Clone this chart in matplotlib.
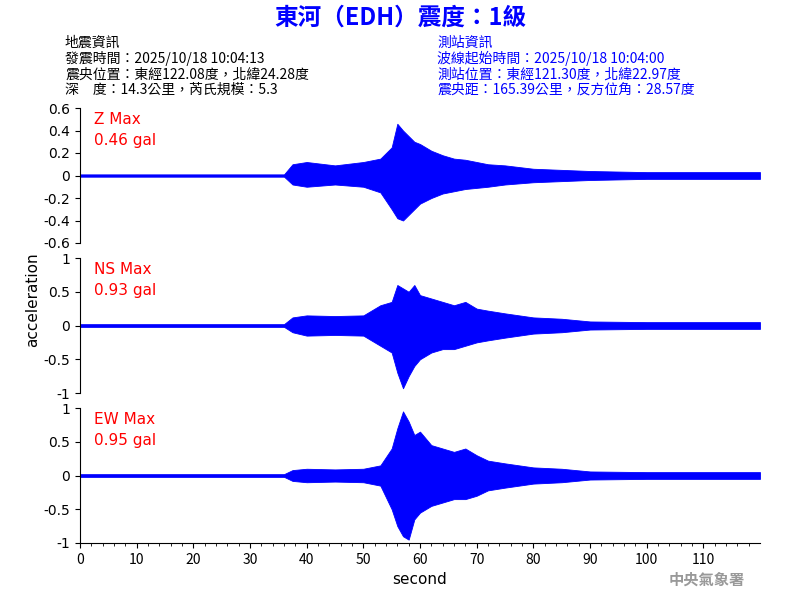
import matplotlib.pyplot as plt

plt.rcParams['font.family'] = ['Noto Sans CJK TC', 'DejaVu Sans']

# envelope of the traces (seconds, gal)
t = [0, 36, 37.5, 40, 45, 50, 53, 55, 56, 57, 58, 59, 60, 62, 64, 66, 68, 70, 72, 75, 80, 85, 90, 100, 110, 120]
z_up = [0.01, 0.01, 0.10, 0.12, 0.09, 0.12, 0.15, 0.25, 0.46, 0.40, 0.35, 0.30, 0.28, 0.22, 0.18, 0.15, 0.14, 0.12, 0.10, 0.09, 0.06, 0.05, 0.04, 0.03, 0.03, 0.03]
z_lo = [-0.01, -0.01, -0.08, -0.10, -0.08, -0.10, -0.15, -0.30, -0.38, -0.40, -0.35, -0.30, -0.25, -0.20, -0.16, -0.14, -0.12, -0.11, -0.10, -0.08, -0.06, -0.05, -0.04, -0.03, -0.03, -0.03]
ns_up = [0.02, 0.02, 0.12, 0.15, 0.14, 0.15, 0.30, 0.35, 0.60, 0.55, 0.50, 0.60, 0.45, 0.40, 0.35, 0.30, 0.35, 0.25, 0.22, 0.18, 0.12, 0.10, 0.06, 0.05, 0.05, 0.05]
ns_lo = [-0.02, -0.02, -0.10, -0.15, -0.14, -0.15, -0.30, -0.40, -0.70, -0.93, -0.75, -0.60, -0.50, -0.40, -0.35, -0.35, -0.30, -0.25, -0.22, -0.18, -0.12, -0.10, -0.06, -0.05, -0.05, -0.05]
ew_up = [0.02, 0.02, 0.08, 0.10, 0.09, 0.10, 0.15, 0.40, 0.70, 0.95, 0.80, 0.60, 0.65, 0.45, 0.40, 0.35, 0.40, 0.30, 0.22, 0.18, 0.12, 0.10, 0.06, 0.05, 0.05, 0.05]
ew_lo = [-0.02, -0.02, -0.08, -0.10, -0.09, -0.10, -0.15, -0.50, -0.75, -0.90, -0.95, -0.65, -0.55, -0.45, -0.40, -0.35, -0.35, -0.30, -0.22, -0.18, -0.12, -0.10, -0.06, -0.05, -0.05, -0.05]

labels = ['Z Max\n0.46 gal', 'NS Max\n0.93 gal', 'EW Max\n0.95 gal']
limits = [0.6, 1, 1]
ticks = [[0.6, 0.4, 0.2, 0, -0.2, -0.4, -0.6], [1, 0.5, 0, -0.5, -1], [1, 0.5, 0, -0.5, -1]]
ticklabels = [['0.6', '0.4', '0.2', '0', '-0.2', '-0.4', '-0.6'], ['1', '0.5', '0', '-0.5', '-1'], ['1', '0.5', '0', '-0.5', '-1']]
ups = [z_up, ns_up, ew_up]
los = [z_lo, ns_lo, ew_lo]

fig = plt.figure(figsize=(8, 6), dpi=100)
tops = [108, 258, 408]
for i in range(3):
    ax = fig.add_axes([80 / 800, 1 - (tops[i] + 135) / 600, 680 / 800, 135 / 600])
    ax.fill_between(t, los[i], ups[i], color='blue', lw=0.6)
    ax.axhline(0, color='blue', lw=1)
    ax.set_xlim(0, 120)
    ax.set_ylim(-limits[i], limits[i])
    ax.set_yticks(ticks[i])
    ax.set_yticklabels(ticklabels[i], fontsize=10, family='DejaVu Sans')
    for s in ['top', 'right']:
        ax.spines[s].set_visible(False)
    ax.text(0.02, 0.97, labels[i], transform=ax.transAxes, color='red', fontsize=11,
            va='top', family='DejaVu Sans', linespacing=1.5)
    if i < 2:
        ax.spines['bottom'].set_visible(False)
        ax.set_xticks([])
    else:
        ax.set_xticks(range(0, 120, 10))
        ax.set_xticks(range(0, 120, 2), minor=True)
        ax.tick_params(labelsize=10)
        ax.set_xlabel('second', fontsize=11, family='DejaVu Sans')

fig.text(33 / 800, 300 / 600, 'acceleration', rotation=90, ha='center', va='center', fontsize=11, family='DejaVu Sans')
fig.text(0.5, 1 - 18 / 600, '東河（EDH）震度：1級', ha='center', va='center', color='blue', fontsize=17, weight='bold')
left = '地震資訊\n發震時間：2025/10/18 10:04:13\n震央位置：東經122.08度，北緯24.28度\n深　度：14.3公里，芮氏規模：5.3'
right = '測站資訊\n波線起始時間：2025/10/18 10:04:00\n測站位置：東經121.30度，北緯22.97度\n震央距：165.39公里，反方位角：28.57度'
fig.text(65 / 800, 1 - 36 / 600, left, va='top', fontsize=10, linespacing=1.1)
fig.text(437 / 800, 1 - 36 / 600, right, va='top', fontsize=10, linespacing=1.1, color='blue')
fig.text(745 / 800, 1 - 580 / 600, '中央氣象署', ha='right', va='center', fontsize=11, color='#999999', weight='bold')

fig.savefig('out.png')
